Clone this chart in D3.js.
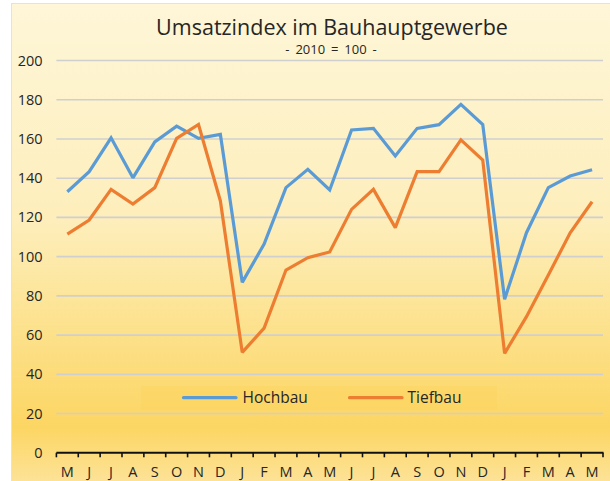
<!DOCTYPE html>
<html>
<head>
<meta charset="utf-8">
<script src="https://cdn.jsdelivr.net/npm/d3@7"></script>
<style>
  html, body { margin: 0; padding: 0; background: #ffffff; }
  svg { display: block; }
  text { font-family: "Open Sans", "Noto Sans", sans-serif; fill: #262626; }
</style>
</head>
<body>
<script>
// ---- data ----
const months = ["M","J","J","A","S","O","N","D","J","F","M","A","M","J","J","A","S","O","N","D","J","F","M","A","M"];
const hochbau = [133.1,143.3,160.6,140.2,158.5,166.5,160.3,162.3,86.9,106.4,135.2,144.5,134.0,164.6,165.4,151.3,165.4,167.3,177.6,167.3,78.3,112.2,135.2,141.1,144.3];
const tiefbau = [111.5,118.7,134.3,126.8,135.2,160.3,167.4,128.4,51.2,63.6,93.2,99.5,102.4,124.1,134.3,114.8,143.3,143.3,159.5,149.3,50.7,69.4,90.6,112.2,128.0];
const yTicks = [0,20,40,60,80,100,120,140,160,180,200];
const seriesNames = ["Hochbau","Tiefbau"];
const seriesColors = ["#5b9bd5","#ed7d31"];
const titleText = "Umsatzindex im Bauhauptgewerbe";
const subtitleText = "- 2010 = 100 -";

const W = 610, H = 481;
const svg = d3.select("body").append("svg").attr("width", W).attr("height", H);

// background gradient
const defs = svg.append("defs");
const grad = defs.append("linearGradient").attr("id","bg").attr("x1",0).attr("y1",0).attr("x2",0).attr("y2",1);
[[0,"#fef6d8"],[0.45,"#fdeebb"],[0.88,"#fcd663"],[1,"#fde39a"]].forEach(s =>
  grad.append("stop").attr("offset", s[0]).attr("stop-color", s[1]));

svg.append("rect").attr("x",11.5).attr("y",3.5).attr("width",W).attr("height",H)
  .attr("fill","url(#bg)").attr("stroke","#e2e2e2").attr("stroke-width",1);

// scales
const x = d3.scaleBand().domain(d3.range(months.length)).range([56.4, 603]);
const y = d3.scaleLinear().domain([0,200]).range([452.8, 60.5]);

// gridlines
svg.append("g").selectAll("line").data(yTicks.filter(d => d > 0)).join("line")
  .attr("x1", 56.4).attr("x2", 603)
  .attr("y1", d => y(d)).attr("y2", d => y(d))
  .attr("stroke", "#cfcfcf").attr("stroke-width", 1.6);

// y labels
svg.append("g").selectAll("text").data(yTicks).join("text")
  .attr("x", 42.5).attr("y", d => y(d)).attr("dy","0.35em")
  .attr("text-anchor","end").attr("font-size", 14.5).text(d => d);

// legend box
const lg = svg.append("g");
lg.append("rect").attr("x",141).attr("y",386).attr("width",356).attr("height",24)
  .attr("fill","#fcd660").attr("opacity",0.55);
[[183.5,236,242.5],[349.5,402,407.5]].forEach((p,i) => {
  lg.append("line").attr("x1",p[0]).attr("x2",p[1]).attr("y1",397.7).attr("y2",397.7)
    .attr("stroke",seriesColors[i]).attr("stroke-width",3.2).attr("stroke-linecap","round");
  lg.append("text").attr("x",p[2]).attr("y",397.7).attr("dy","0.35em")
    .attr("font-size",15.5).text(seriesNames[i]);
});

// lines
const line = d3.line().x((d,i) => x(i) + x.bandwidth()/2).y(d => y(d));
[hochbau, tiefbau].forEach((s,i) => {
  svg.append("path").datum(s).attr("d", line).attr("fill","none")
    .attr("stroke", seriesColors[i]).attr("stroke-width", 3.2)
    .attr("stroke-linejoin","miter").attr("stroke-miterlimit", 2);
});

// x axis
const xAxis = svg.append("g");
xAxis.append("line").attr("x1",56.4).attr("x2",603.5).attr("y1",y(0)).attr("y2",y(0))
  .attr("stroke","#111").attr("stroke-width",2);
xAxis.selectAll("line.tick").data(d3.range(months.length+1)).join("line").attr("class","tick")
  .attr("x1", i => 56.4 + i * x.step()).attr("x2", i => 56.4 + i * x.step())
  .attr("y1", y(0)).attr("y2", y(0) + 4.5)
  .attr("stroke","#111").attr("stroke-width",1.6);
xAxis.selectAll("text").data(months).join("text")
  .attr("x", (d,i) => x(i) + x.bandwidth()/2).attr("y", 477)
  .attr("text-anchor","middle").attr("font-size", 14.5).text(d => d);

// title
svg.append("text").attr("x", 332).attr("y", 35).attr("text-anchor","middle")
  .attr("font-size", 21.5).text(titleText);
svg.append("text").attr("x", 331).attr("y", 54).attr("text-anchor","middle")
  .attr("font-size", 13).attr("word-spacing", 2.5).text(subtitleText);
</script>
</body>
</html>
